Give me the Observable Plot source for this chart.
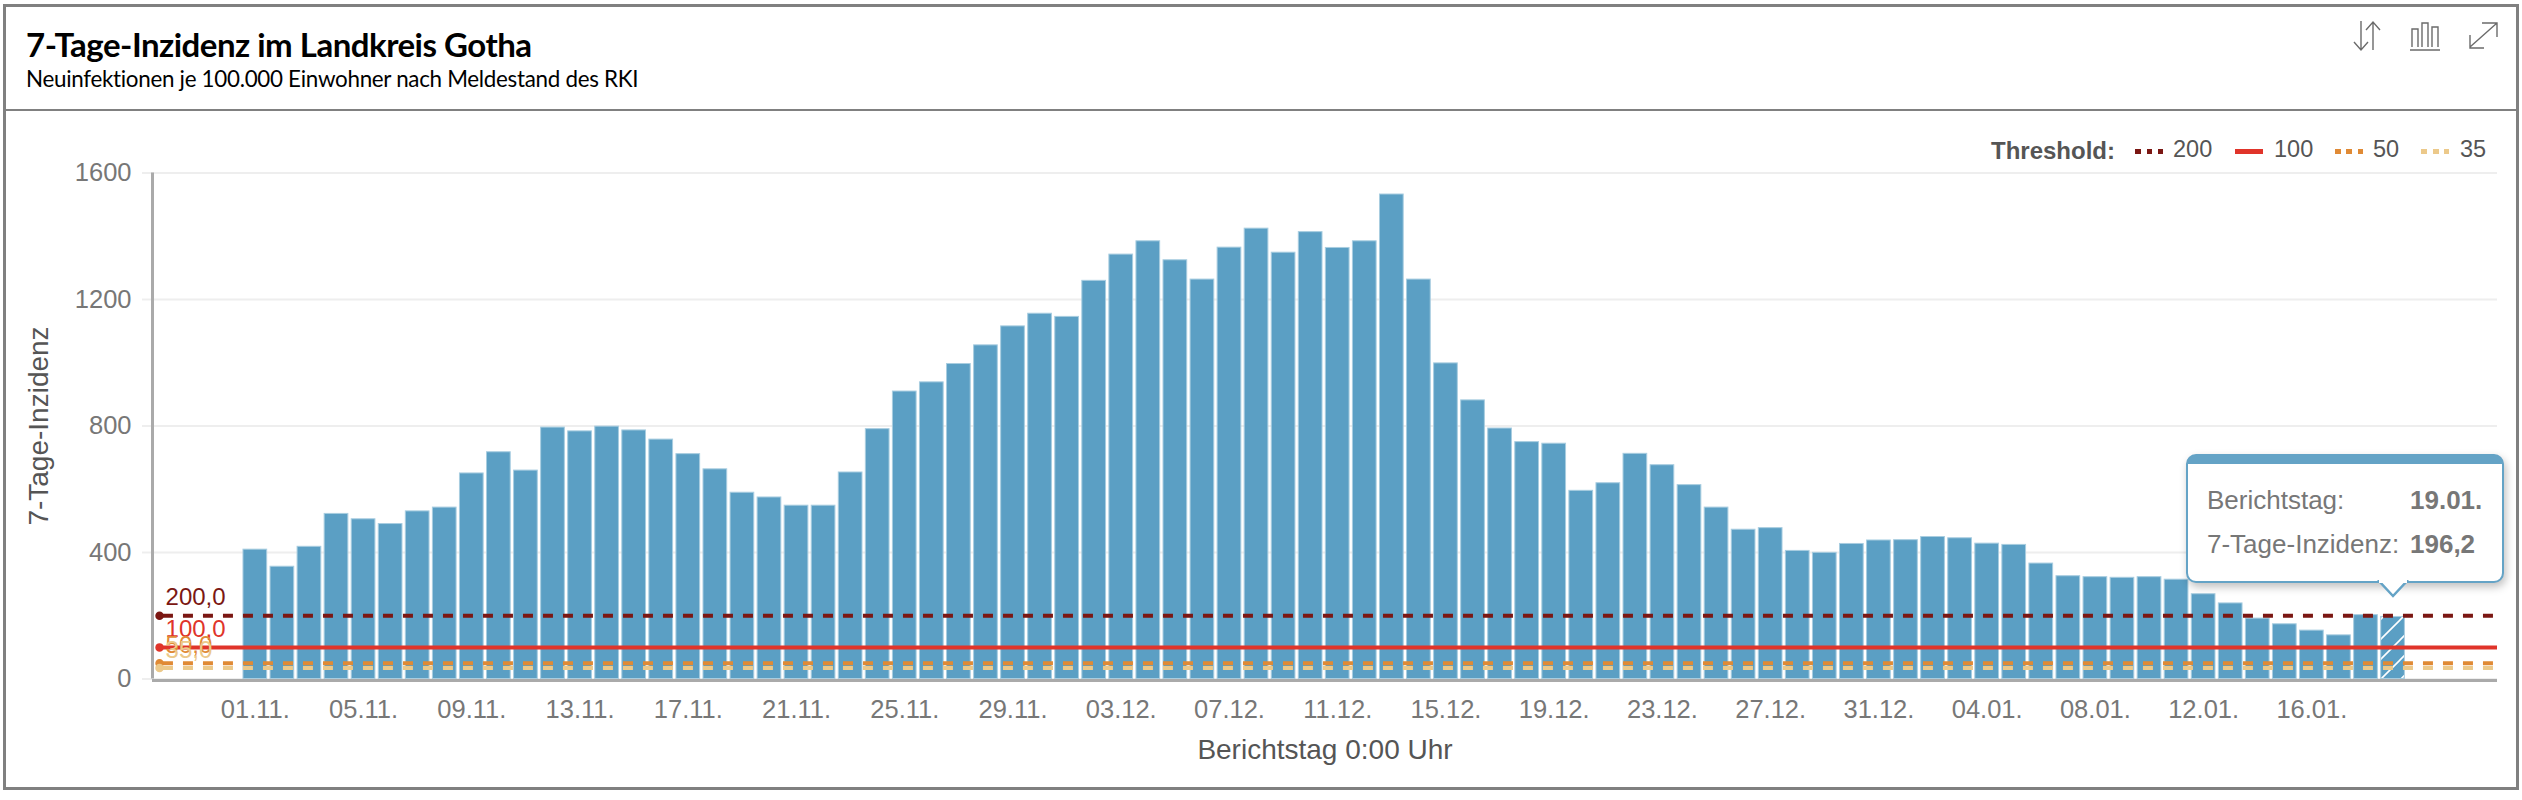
<!DOCTYPE html>
<html lang="de">
<head>
<meta charset="utf-8">
<script src="https://cdn.jsdelivr.net/npm/d3@7"></script>
<script src="https://cdn.jsdelivr.net/npm/@observablehq/plot@0.6"></script>
<style>
html,body{margin:0;padding:0;background:#fff;width:2522px;height:800px;overflow:hidden}
#page{position:relative;width:2522px;height:800px;font-family:"Liberation Sans",Arial,sans-serif}
#frame{position:absolute;left:3px;top:4px;width:2510px;height:780px;border:3px solid #808080;box-sizing:content-box;pointer-events:none}
#divider{position:absolute;left:3px;top:109px;width:2514px;height:2px;background:#808080}
#title{position:absolute;left:26px;top:24px;font:700 33px Lato,sans-serif;letter-spacing:-.5px;color:#000;white-space:nowrap}
#subtitle{position:absolute;left:26px;top:65px;font:400 22.4px Lato,sans-serif;letter-spacing:-.3px;color:#000;white-space:nowrap}
#chart{position:absolute;left:0;top:0}
#icons{position:absolute;left:2350px;top:16px}
.lg{position:absolute;top:136px;font-size:23.5px;color:#555;white-space:nowrap}
.sw{position:absolute;top:149px;width:28px;height:5px}
#tip{position:absolute;left:2186px;top:454px;width:314px;height:117px;border:2px solid #64a3c6;border-top:10px solid #64a3c6;border-radius:10px;background:#fff;box-shadow:2px 4px 8px rgba(0,0,0,.25);box-sizing:content-box;color:#777;font-size:26px}
#tip span{position:absolute;white-space:nowrap}
#tip b{color:#777}
#ptr{position:absolute;left:2376px;top:580px}
</style>
</head>
<body>
<div id="page">
  <div id="chart"></div>
  <div id="frame"></div>
  <div id="divider"></div>
  <div id="title">7-Tage-Inzidenz im Landkreis Gotha</div>
  <div id="subtitle">Neuinfektionen je 100.000 Einwohner nach Meldestand des RKI</div>
  <svg id="icons" width="150" height="36" fill="none" stroke="#6b6b6b" stroke-width="1.4">
    <path d="M11 5V34M4 26l7 8 7-8M23 34V6M16 14l7-8 7 8"/>
    <path d="M60 34H90M62 31V13h6v18M72 31V7h6v24M82 31V11h6v20"/>
    <path d="M120 31L147 7M132 7h15v14M120 19v13h14"/>
  </svg>
  <div class="lg" style="left:1991px;font-weight:700;font-size:24px;top:137px">Threshold:</div>
  <div class="sw" style="left:2135px;background:repeating-linear-gradient(90deg,#7b1713 0 6px,transparent 6px 11.5px)"></div>
  <div class="lg" style="left:2173px">200</div>
  <div class="sw" style="left:2235px;background:#e0342a"></div>
  <div class="lg" style="left:2274px">100</div>
  <div class="sw" style="left:2335px;background:repeating-linear-gradient(90deg,#e08a35 0 6px,transparent 6px 11.5px)"></div>
  <div class="lg" style="left:2373px">50</div>
  <div class="sw" style="left:2421px;background:repeating-linear-gradient(90deg,#ecc98a 0 6px,transparent 6px 11.5px)"></div>
  <div class="lg" style="left:2460px">35</div>
  <div id="tip">
    <span style="left:19px;top:21px">Berichtstag:</span><span style="left:222px;top:21px"><b>19.01.</b></span>
    <span style="left:19px;top:65px">7-Tage-Inzidenz:</span><span style="left:222px;top:65px"><b>196,2</b></span>
  </div>
  <svg id="ptr" width="36" height="20"><path d="M2 0L17 16L32 0" fill="#fff" stroke="#64a3c6" stroke-width="2.5"/><path d="M3 0H31V3H3Z" fill="#fff"/></svg>
</div>
<script>
// Reported 7-day incidence per day, 01.11. to 19.01.
const incidence = [
  409,355,418,522,505,490,530,542,650,717,659,795,783,798,786,757,711,663,589,574,548,548,653,
  790,909,938,996,1055,1115,1155,1145,1259,1342,1384,1324,1263,1364,1424,1348,1413,1363,1384,1532,1263,998,881,792,
  749,744,595,619,712,676,613,542,472,477,405,399,427,438,439,449,445,428,424,365,325,322,320,322,314,268,239,191,173,153,138,202,196.2
];
const xTickLabels = ["01.11.","05.11.","09.11.","13.11.","17.11.","21.11.","25.11.","29.11.","03.12.","07.12.","11.12.","15.12.","19.12.","23.12.","27.12.","31.12.","04.01.","08.01.","12.01.","16.01."];
const yTicks = [0,400,800,1200,1600];
const thresholdValues = [200,100,50,35];
const thresholdLabels = ["200,0","100,0","50,0","35,0"];
const thresholdColors = ["#7b1713","#e0342a","#e08a35","#ecc98a"];

const bars = incidence.map((v,i)=>({i,v}));
const regular = bars.slice(0,-1), current = bars.slice(-1);
const thresholds = thresholdValues.map((value,k)=>({value,label:thresholdLabels[k],color:thresholdColors[k]}));
const dashed = thresholds.filter(d=>d.value!==100), solid = thresholds.filter(d=>d.value===100);

const xDomain = [-3.80,82.86];
const half = 0.438, startDash = -3.395, startDot = -3.54, endDash = 82.72, endSolid = 82.86;
const tickIdx = xTickLabels.map((_,k)=>k*4);
const barFill = "#5b9fc4", barEdge = "#a8cde0";

const plot = Plot.plot({
  width:2522,height:800,
  marginLeft:152,marginRight:25,marginTop:172.5,marginBottom:121.5,
  style:{background:"transparent",fontFamily:'"Liberation Sans",Arial,sans-serif'},
  x:{domain:xDomain,axis:null},
  y:{domain:[0,1600],axis:null},
  marks:[
    Plot.ruleY(yTicks,{y:d=>d,x1:xDomain[0],x2:xDomain[1],stroke:"#eee",strokeWidth:2}),
    Plot.axisY({ticks:yTicks,tickSize:10,stroke:"#eee",strokeWidth:2,tickPadding:11,fontSize:25.5,label:null,
      tickFormat:d=>String(d),fill:"#777"}),
    Plot.rect(regular,{x1:d=>d.i-half,x2:d=>d.i+half,y1:0,y2:"v",fill:barFill,stroke:barEdge,strokeWidth:1}),
    Plot.rect(current,{x1:d=>d.i-half,x2:d=>d.i+half,y1:0,y2:"v",fill:"url(#hatch)",stroke:barEdge,strokeWidth:1}),
    Plot.ruleX([xDomain[0]],{stroke:"#aaa",strokeWidth:3}),
    Plot.ruleY([0],{stroke:"#aaa",strokeWidth:3,dy:1.5}),
    Plot.ruleY(dashed,{y:"value",x1:startDash,x2:endDash,stroke:"color",strokeWidth:4,strokeDasharray:"10,10"}),
    Plot.ruleY(solid,{y:"value",x1:startDot,x2:endSolid,stroke:"color",strokeWidth:4}),
    Plot.dot(thresholds,{x:startDot,y:"value",fill:"color",stroke:"color",r:3.5}),
    Plot.text(thresholds,{x:startDot,y:"value",text:"label",fill:"color",fontSize:24,textAnchor:"start",dx:6,dy:-18,stroke:"none"}),
    Plot.axisX({ticks:tickIdx,tickSize:0,tickPadding:21,fontSize:25.5,fill:"#777",stroke:"none",label:null,
      tickFormat:d=>xTickLabels[d/4]}),
    Plot.text(["Berichtstag 0:00 Uhr"],{frameAnchor:"bottom",text:d=>d,dy:80,fontSize:28,fill:"#555"}),
    Plot.text(["7-Tage-Inzidenz"],{frameAnchor:"left",textAnchor:"middle",text:d=>d,rotate:-90,dx:-113,fontSize:28,fill:"#555"})
  ]
});
const svg = d3.select(plot);
const pat = svg.insert("defs",":first-child").append("pattern")
  .attr("id","hatch").attr("patternUnits","userSpaceOnUse").attr("width",20).attr("height",20);
pat.append("rect").attr("width",20).attr("height",20).attr("fill",barFill);
pat.append("path").attr("d","M-5 5L5 -5M0 20L20 0M15 25L25 15").attr("stroke","#fff").attr("stroke-width",1.6);
document.getElementById("chart").appendChild(plot);
</script>
</body>
</html>
